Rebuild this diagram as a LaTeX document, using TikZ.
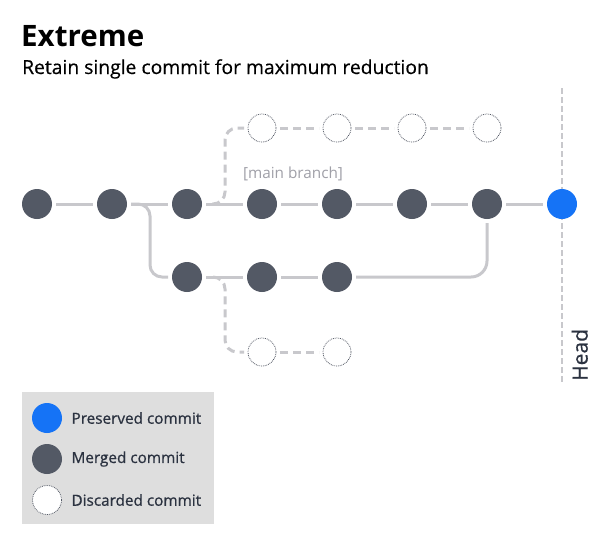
\documentclass[tikz,border=0pt]{standalone}
\usepackage{fontspec}
\setmainfont{Open Sans}
\definecolor{merged}{HTML}{535965}
\definecolor{preserved}{HTML}{1573F6}
\definecolor{linegray}{HTML}{C8C8CC}
\definecolor{txt}{HTML}{2B3240}
\definecolor{lbl}{HTML}{A0A0A8}
\definecolor{legbg}{HTML}{DEDEDE}
\begin{document}
\begin{tikzpicture}[x=1pt,y=-1pt,
  mergedc/.style={circle,fill=merged,minimum size=30pt,inner sep=0pt,outer sep=4pt},
  preservedc/.style={circle,fill=preserved,minimum size=30pt,inner sep=0pt,outer sep=4pt},
  discardc/.style={circle,draw=merged,densely dotted,line width=0.8pt,fill=white,minimum size=28pt,inner sep=0pt,outer sep=4pt},
  solidline/.style={draw=linegray,line width=3pt},
  dashline/.style={draw=linegray,line width=3pt,dash pattern=on 8pt off 5pt},
  legtext/.style={anchor=west,text=txt,font=\fontsize{15.3}{18}\selectfont\addfontfeatures{FakeBold=0.8}}]
\useasboundingbox (0,0) rectangle (604,547);
\fill[white] (0,0) rectangle (604,547);
% title
\node[anchor=base west,inner sep=0pt,font=\fontsize{29.5}{34}\selectfont\bfseries] (title) at (21,46) {Extreme};
\node[anchor=base west,inner sep=0pt,font=\fontsize{19.3}{23}\selectfont\addfontfeatures{FakeBold=0.4}] (sub) at (22,74) {Retain single commit for maximum reduction};
% head line
\coordinate (ht) at (562,88);
\coordinate (hb) at (562,382);
\draw[linegray,line width=2.5pt,dash pattern=on 6pt off 3pt] (ht) -- (hb);
\node[rotate=90,anchor=south west,inner sep=0pt,text=txt,font=\fontsize{21}{24}\selectfont\addfontfeatures{FakeBold=0.5}] (head) at (588,381) {Head};
% main row
\node[mergedc] (m1) at (37,204) {};
\node[mergedc] (m2) at (112,204) {};
\node[mergedc] (m3) at (187,204) {};
\node[mergedc] (m4) at (262,204) {};
\node[mergedc] (m5) at (337,204) {};
\node[mergedc] (m6) at (412,204) {};
\node[mergedc] (m7) at (487,204) {};
\node[preservedc] (p) at (562,204) {};
% lower branch
\node[mergedc] (l1) at (187,277) {};
\node[mergedc] (l2) at (262,277) {};
\node[mergedc] (l3) at (337,277) {};
% discarded upper
\node[discardc] (u1) at (262,128) {};
\node[discardc] (u2) at (337,128) {};
\node[discardc] (u3) at (412,128) {};
\node[discardc] (u4) at (487,128) {};
% discarded lower
\node[discardc] (d1) at (262,352) {};
\node[discardc] (d2) at (337,352) {};
% label
\node[text=lbl,font=\fontsize{15.3}{18}\selectfont,anchor=base] (mb) at (293,178) {[main branch]};
% solid connectors
\draw[solidline] (m1) -- (m2);
\draw[solidline] (m2) -- (m3);
\draw[solidline] (m3) -- (m4);
\draw[solidline] (m4) -- (m5);
\draw[solidline] (m5) -- (m6);
\draw[solidline] (m6) -- (m7);
\draw[solidline] (m7) -- (p);
\draw[solidline,rounded corners=12pt] (m2.east) -- (150,204) -- (150,277) -- (l1.west);
\draw[solidline] (l1) -- (l2);
\draw[solidline] (l2) -- (l3);
\draw[solidline,rounded corners=16pt] (l3.east) -- (487,277) -- (m7.south);
% dashed connectors
\coordinate (ua) at (212,204);
\coordinate (da) at (213,277);
\draw[dashline,rounded corners=12pt] (ua) -- (225,204) -- (225,128) -- (u1.west);
\draw[dashline] (u1) -- (u2);
\draw[dashline] (u2) -- (u3);
\draw[dashline] (u3) -- (u4);
\draw[dashline,rounded corners=12pt] (da) -- (225,277) -- (225,352) -- (d1.west);
\draw[dashline] (d1) -- (d2);
% legend
\fill[legbg] (22,392) rectangle (214,524);
\node[circle,fill=preserved,minimum size=30pt,inner sep=0pt] (lg1) at (47,418) {};
\node[circle,fill=merged,minimum size=30pt,inner sep=0pt] (lg2) at (47,459) {};
\node[circle,draw=merged,densely dotted,line width=0.8pt,fill=white,minimum size=29pt,inner sep=0pt] (lg3) at (47,500) {};
\node[legtext] (t1) at (68,418) {Preserved commit};
\node[legtext] (t2) at (68,459) {Merged commit};
\node[legtext] (t3) at (68,500) {Discarded commit};
\end{tikzpicture}
\end{document}
